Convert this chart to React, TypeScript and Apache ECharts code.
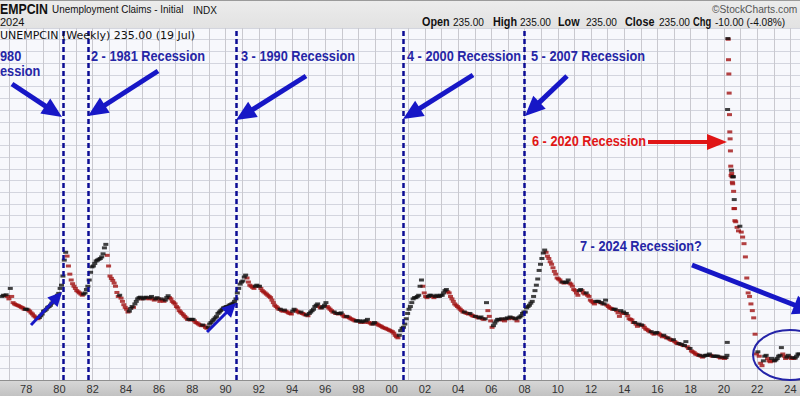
import React, { useEffect, useRef } from 'react';
import * as echarts from 'echarts';

// Initial jobless claims (thousands), monthly readings
const monthly1976to1979 = [
  395, 400, 398, 402, 395, 385,
  430, 395, 370, 365, 362, 360, 358, 355, 352, 350, 345, 345,
  345, 342, 338, 332, 328, 322, 318, 314, 312, 316, 322, 328,
  338, 340, 345, 352, 355, 360, 368, 378, 385, 392, 400, 408,
];
const monthly1980s = [
  430, 445, 490, 580, 630, 605, 545, 500, 470, 452, 440, 430,
  420, 415, 410, 405, 400, 405, 410, 425, 440, 470, 510, 540,
  545, 560, 575, 580, 585, 590, 600, 620, 660, 685, 610, 545,
  490, 478, 468, 455, 440, 412, 395, 400, 388, 375, 362, 352,
  345, 335, 338, 348, 355, 352, 365, 375, 385, 390, 392, 385,
  385, 390, 392, 388, 385, 390, 395, 385, 380, 385, 390, 385,
  375, 385, 380, 375, 380, 390, 398, 390, 385, 375, 370, 365,
  355, 350, 340, 335, 330, 325, 320, 315, 310, 310, 308, 310,
  310, 305, 300, 298, 295, 292, 290, 292, 290, 285, 282, 285,
  295, 300, 305, 310, 315, 320, 330, 335, 340, 345, 350, 352,
];
const monthly1990s = [
  355, 355, 360, 362, 365, 368, 375, 385, 410, 430, 450, 460,
  465, 485, 495, 480, 460, 445, 440, 435, 430, 440, 445, 440,
  440, 430, 420, 415, 410, 405, 400, 395, 390, 380, 370, 360,
  355, 350, 345, 345, 340, 338, 342, 338, 335, 332, 330, 328,
  338, 345, 342, 338, 335, 332, 335, 330, 328, 325, 325, 322,
  330, 335, 340, 345, 355, 360, 365, 355, 350, 350, 355, 360,
  370, 355, 350, 345, 340, 335, 335, 330, 330, 328, 330, 332,
  325, 320, 318, 320, 318, 315, 312, 310, 308, 305, 305, 305,
  305, 300, 302, 305, 300, 305, 310, 300, 298, 295, 295, 300,
  298, 295, 292, 290, 288, 285, 283, 282, 280, 278, 276, 274,
];
const monthly2000s = [
  272, 268, 262, 258, 255, 262, 275, 282, 285, 295, 312, 330,
  345, 355, 370, 385, 390, 390, 395, 400, 440, 470, 440, 410,
  395, 390, 395, 400, 400, 395, 390, 395, 400, 395, 395, 400,
  400, 410, 420, 425, 415, 410, 395, 385, 375, 365, 360, 355,
  350, 345, 340, 335, 335, 332, 330, 328, 330, 325, 322, 320,
  320, 318, 315, 315, 318, 312, 310, 312, 370, 340, 320, 305,
  285, 290, 298, 305, 310, 310, 308, 312, 310, 305, 312, 315,
  312, 318, 315, 315, 312, 312, 305, 315, 318, 322, 330, 335,
  335, 350, 355, 360, 368, 375, 395, 420, 445, 475, 520, 555,
  590, 625, 645, 630, 605, 590, 570, 555, 535, 515, 500, 480,
];
const monthly2010s = [
  475, 470, 460, 460, 455, 458, 460, 470, 455, 450, 440, 425,
  420, 410, 400, 420, 425, 420, 410, 405, 410, 400, 395, 380,
  375, 370, 365, 375, 375, 375, 370, 370, 365, 365, 380, 360,
  355, 350, 348, 345, 345, 345, 340, 332, 320, 340, 330, 335,
  330, 330, 322, 312, 310, 308, 300, 300, 295, 288, 295, 292,
  292, 290, 285, 280, 278, 275, 272, 272, 268, 265, 268, 270,
  268, 265, 262, 258, 262, 258, 255, 255, 252, 250, 248, 250,
  245, 242, 240, 240, 238, 238, 235, 235, 245, 232, 228, 228,
  222, 220, 218, 215, 214, 212, 212, 210, 208, 210, 212, 212,
  212, 215, 212, 210, 210, 210, 210, 210, 208, 206, 208, 207,
];
const monthly2020JanFeb = [205, 207];
const weeklyDates2020 = [
  '2020-03-07', '2020-03-14', '2020-03-21', '2020-03-28', '2020-04-04', '2020-04-11',
  '2020-04-18', '2020-04-25', '2020-05-02', '2020-05-09', '2020-05-16', '2020-05-23',
  '2020-05-30', '2020-06-06', '2020-06-13', '2020-06-20', '2020-06-27', '2020-07-04',
  '2020-07-11', '2020-07-18', '2020-07-25', '2020-08-01', '2020-08-08', '2020-08-15',
  '2020-08-22', '2020-08-29',
];
const weeklyValues2020 = [
  212, 243, 2850, 6040, 5990, 4825, 4150, 3390, 2700, 2250, 2090, 1840,
  1566, 1420, 1500, 1450, 1400, 1320, 1300, 1400, 1400, 1200, 1000, 1100,
  1000, 880,
];
// Sep 2020 .. Jul 2024
const monthlySep2020toJul2024 = [
  870, 820, 790, 830,
  780, 740, 690, 600, 480, 410, 395, 365, 340, 315, 265, 215,
  220, 210, 195, 190, 200, 210, 212, 205, 200, 198, 205, 200,
  200, 202, 205, 210, 212, 230, 215, 210, 205, 208, 212, 208,
  205, 207, 205, 206, 210, 215, 215,
];
const recessionYears = [1980.22, 1981.71, 1990.63, 2000.71, 2008.0];
const recessionLabels = ['2 - 1981 Recession', '3 - 1990 Recession', '4 - 2000 Recession', '5 - 2007 Recession'];
const covidLabel = '6 - 2020 Recession';
const questionLabel = '7 - 2024 Recession?';
const titleText = 'UNEMPCIN (Weekly) 235.00 (19 Jul)';
const quoteLabels = ['Open', 'High', 'Low', 'Close', 'Chg'];
const quoteValues = ['235.00', '235.00', '235.00', '235.00', '-10.00 (-4.08%)'];

function monthlyPoints(values: number[], startYear: number, startMonth: number): number[][] {
  return values.map((v, i) => {
    const m = startMonth + i;
    return [startYear + (m + 0.5) / 12, v];
  });
}
function dateToYear(s: string): number {
  const d = new Date(s + 'T00:00:00Z');
  const y = d.getUTCFullYear();
  const start = Date.UTC(y, 0, 1);
  const end = Date.UTC(y + 1, 0, 1);
  return y + (d.getTime() - start) / (end - start);
}

function buildPoints(): number[][] {
  const pts: number[][] = [];
  pts.push(...monthlyPoints(monthly1976to1979, 1976, 6));
  pts.push(...monthlyPoints(monthly1980s, 1980, 0));
  pts.push(...monthlyPoints(monthly1990s, 1990, 0));
  pts.push(...monthlyPoints(monthly2000s, 2000, 0));
  pts.push(...monthlyPoints(monthly2010s, 2010, 0));
  pts.push(...monthlyPoints(monthly2020JanFeb, 2020, 0));
  weeklyDates2020.forEach((d, i) => pts.push([dateToYear(d), weeklyValues2020[i]]));
  pts.push(...monthlyPoints(monthlySep2020toJul2024, 2020, 8));
  return pts;
}

const BLUE = '#1717c6';
const TEXT_BLUE = '#2626a6';
const RED = '#e01616';
const SHIFT = 10; // chart canvas starts 10px left of the page edge

function arrow(x1: number, y1: number, x2: number, y2: number, color: string, w: number, hl: number, hw: number) {
  const dx = x2 - x1, dy = y2 - y1;
  const len = Math.hypot(dx, dy);
  const ux = dx / len, uy = dy / len;
  const bx = x2 - ux * hl, by = y2 - uy * hl;
  const px = -uy, py = ux;
  return [
    { type: 'line', z: 100, shape: { x1, y1, x2: bx + ux * 2, y2: by + uy * 2 }, style: { stroke: color, lineWidth: w } },
    { type: 'polygon', z: 100, shape: { points: [[x2, y2], [bx + px * hw, by + py * hw], [bx - px * hw, by - py * hw]] }, style: { fill: color } },
  ];
}

function txt(text: string, x: number, y: number, o: any) {
  return {
    type: 'text', z: 100, x, y, scaleX: o.scaleX ?? 1,
    style: {
      text, x: 0, y: 0, fill: o.color ?? '#111',
      font: `${o.weight ?? 'normal'} ${o.size ?? 11}px ${o.family ?? '"Liberation Sans", Arial, sans-serif'}`,
      align: 'left', textAlign: 'left', verticalAlign: 'middle', textVerticalAlign: 'middle',
    },
  };
}

export default function App() {
  const ref = useRef<HTMLDivElement>(null);
  useEffect(() => {
    if (!ref.current) return;
    const chart = echarts.init(ref.current, undefined, { renderer: 'svg' });
    const pts = buildPoints();
    const up: number[][] = [];
    const down: number[][] = [];
    pts.forEach((p, i) => {
      if (i > 0 && p[1] < pts[i - 1][1]) down.push(p); else up.push(p);
    });

    const annFont = { weight: 'bold', size: 15, scaleX: 0.85, color: TEXT_BLUE };
    const recX = [91, 241, 407, 531];
    const quoteLabelX = [422, 493, 558, 625, 693];
    const quoteValueX = [453, 520, 586, 659, 715];
    const quoteLabelScale = [0.9, 0.9, 0.9, 0.9, 0.78];

    const graphics: any[] = [
      { type: 'rect', z: -1, shape: { x: -SHIFT, y: 0, width: 830, height: 28 },
        style: { fill: new echarts.graphic.LinearGradient(0, 0, 0, 1, [{ offset: 0, color: '#ececec' }, { offset: 1, color: '#e2e2e2' }]) } },
      { type: 'line', z: -1, shape: { x1: -SHIFT, y1: 0.5, x2: 820, y2: 0.5 }, style: { stroke: '#9a9a9a', lineWidth: 1 } },
      { type: 'rect', z: -1, shape: { x: -SHIFT, y: 380, width: 830, height: 16 },
        style: { fill: new echarts.graphic.LinearGradient(0, 0, 0, 1, [{ offset: 0, color: '#d8d8d8' }, { offset: 1, color: '#c2c2c2' }]) } },
      txt('EMPCIN', 0, 9, { weight: 'bold', size: 14, scaleX: 0.88 }),
      txt('Unemployment Claims - Initial', 52, 9, { size: 11, scaleX: 0.9 }),
      txt('INDX', 193, 10, { size: 10 }),
      txt('2024', 0, 22, { size: 11 }),
      txt('\u00A9StockCharts.com', 712, 9, { size: 11, scaleX: 0.93, color: '#555' }),
      txt(titleText, 0, 35, { size: 11, family: '"DejaVu Sans", sans-serif' }),
      ...quoteLabels.map((t, i) => txt(t, quoteLabelX[i], 22, { weight: 'bold', size: 12, scaleX: quoteLabelScale[i] })),
      ...quoteValues.map((t, i) => txt(t, quoteValueX[i], 22, { size: 11, scaleX: 0.92 })),
      txt('980', 0, 56, annFont),
      txt('ession', 0, 71, annFont),
      ...recessionLabels.map((t, i) => txt(t, recX[i], 56, annFont)),
      txt(covidLabel, 532, 141, { ...annFont, color: RED }),
      txt(questionLabel, 580, 246, annFont),
      ...arrow(12, 84, 62, 117, BLUE, 5, 20, 9),
      ...arrow(158, 71, 88, 116, BLUE, 5, 20, 9),
      ...arrow(306, 76, 236, 120, BLUE, 5, 20, 9),
      ...arrow(473, 75, 403, 119, BLUE, 5, 20, 9),
      ...arrow(567, 76, 525, 116, BLUE, 5, 20, 9),
      ...arrow(648, 142, 727, 142, RED, 4, 20, 8),
      ...arrow(692, 265, 815, 313, BLUE, 5, 22, 10),
      ...arrow(31, 325, 62, 292, BLUE, 3, 14, 7),
      ...arrow(207, 332, 236, 303, BLUE, 3, 14, 7),
      { type: 'ellipse', z: 100, shape: { cx: 790, cy: 355, rx: 37, ry: 25 }, style: { fill: 'none', stroke: '#2424a8', lineWidth: 2 } },
    ];

    const option: any = {
      animation: false,
      backgroundColor: '#ffffff',
      grid: { left: 0.6, right: 1.1, top: 28, bottom: 16, show: true, backgroundColor: '#f7f8fc', borderWidth: 0 },
      xAxis: {
        type: 'value', min: 1976, max: 2025, interval: 1,
        axisLine: { show: true, lineStyle: { color: '#8f8f8f' } },
        axisTick: { show: false },
        splitLine: { show: true, lineStyle: { color: '#c9c9cf', width: 1 } },
        axisLabel: {
          color: '#333', fontSize: 11, margin: 3, fontFamily: '"Liberation Sans", Arial, sans-serif',
          formatter: (v: number) => {
            const y = Math.round(v);
            if (y % 2 !== 0 || y < 1978 || y > 2024) return '';
            return String(y).slice(2);
          },
        },
      },
      yAxis: [
        { type: 'log', min: 163.3, max: 6747, show: false, splitLine: { show: false } },
        { type: 'value', min: 0, max: 30, interval: 1, axisLabel: { show: false }, axisLine: { show: false }, axisTick: { show: false },
          splitLine: { show: true, lineStyle: { color: '#d3d5de', width: 1 } } },
      ],
      series: [
        {
          type: 'scatter', yAxisIndex: 0, data: down, symbol: 'rect', symbolSize: [5, 3],
          itemStyle: { color: '#a01212' }, silent: true,
          markLine: {
            silent: true, symbol: ['none', 'none'], label: { show: false },
            lineStyle: { color: '#0c0c94', width: 2.5, type: [5, 3] },
            data: recessionYears.map((x) => ({ xAxis: x })),
          },
        },
        { type: 'scatter', yAxisIndex: 0, data: up, symbol: 'rect', symbolSize: [5, 3], itemStyle: { color: '#111111' }, silent: true },
      ],
      graphic: { elements: [{ type: 'group', x: SHIFT, y: 0, children: graphics }] },
    };
    chart.setOption(option);
    return () => chart.dispose();
  }, []);
  return <div ref={ref} style={{ position: 'absolute', left: -SHIFT, top: 0, width: 820, height: 396 }} />;
}
